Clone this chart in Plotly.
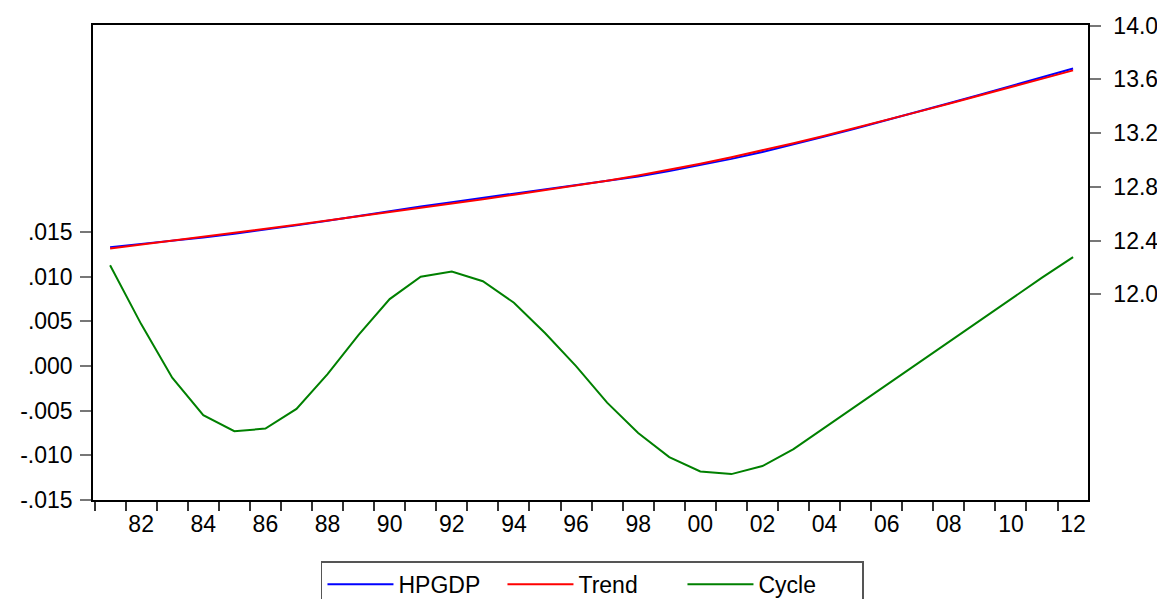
import plotly.graph_objects as go

years = list(range(1981, 2013))

hpgdp = [12.351, 12.374, 12.397, 12.423, 12.451, 12.481, 12.513, 12.548,
         12.584, 12.619, 12.653, 12.686, 12.718, 12.748, 12.779, 12.810,
         12.842, 12.877, 12.917, 12.960, 13.008, 13.060, 13.116, 13.174,
         13.235, 13.296, 13.358, 13.422, 13.486, 13.551, 13.614, 13.681]

trend = [12.340, 12.369, 12.398, 12.428, 12.458, 12.488, 12.518, 12.549,
         12.580, 12.611, 12.643, 12.675, 12.708, 12.741, 12.775, 12.810,
         12.846, 12.885, 12.927, 12.972, 13.020, 13.071, 13.125, 13.181,
         13.239, 13.298, 13.358, 13.419, 13.481, 13.543, 13.605, 13.667]

cycle = [0.0113, 0.0047, -0.0013, -0.0055, -0.0073, -0.0070, -0.0048, -0.0009,
         0.0035, 0.0075, 0.0100, 0.0106, 0.0095, 0.0071, 0.0037, 0.0000,
         -0.0041, -0.0075, -0.0102, -0.0118, -0.0121, -0.0112, -0.0093, -0.0069,
         -0.0045, -0.0021, 0.0003, 0.0027, 0.0051, 0.0075, 0.0099, 0.0122]

x_tick_years = list(range(1982, 2013, 2))
x_tick_text = [f"{y % 100:02d}" for y in x_tick_years]

left_tick_vals = [-0.015, -0.010, -0.005, 0.0, 0.005, 0.010, 0.015]
left_tick_text = ["-.015", "-.010", "-.005", ".000", ".005", ".010", ".015"]

right_tick_vals = [12.0, 12.4, 12.8, 13.2, 13.6, 14.0]
right_tick_text = ["12.0", "12.4", "12.8", "13.2", "13.6", "14.0"]

FONT = "Liberation Sans, Arial, sans-serif"

fig = go.Figure()
fig.add_trace(go.Scatter(x=years, y=hpgdp, name="HPGDP", mode="lines",
                         line=dict(color="#0000FF", width=2), yaxis="y2"))
fig.add_trace(go.Scatter(x=years, y=trend, name="Trend", mode="lines",
                         line=dict(color="#FF0000", width=2), yaxis="y2"))
fig.add_trace(go.Scatter(x=years, y=cycle, name="Cycle", mode="lines",
                         line=dict(color="#008000", width=2), yaxis="y"))

fig.update_layout(
    width=1157, height=591,
    margin=dict(l=85, r=77, t=17, b=99, autoexpand=False),
    paper_bgcolor="white", plot_bgcolor="white",
    font=dict(family=FONT, size=21, color="black"),
    showlegend=True,
    legend=dict(orientation="h", xref="container", yref="container",
                x=0.2705, xanchor="left", y=0.064, yanchor="top",
                bordercolor="#555555", borderwidth=1.5, bgcolor="white",
                font=dict(family=FONT, size=23, color="black"),
                itemwidth=66, traceorder="normal", entrywidth=99),
    xaxis=dict(range=[1980.45, 2012.48], tickmode="array", tickvals=x_tick_years,
               ticktext=x_tick_text, ticks="", showgrid=False, zeroline=False,
               showline=True, linecolor="black", linewidth=1.5, mirror=True,
               tickfont=dict(family=FONT, size=23), ticklabelstandoff=3,
               minor=dict(tickmode="linear", tick0=1980.5, dtick=1, ticks="outside",
                          ticklen=9, tickcolor="#333333", tickwidth=1.5, showgrid=False)),
    yaxis=dict(range=[-0.015, 0.0382], tickmode="array", tickvals=left_tick_vals,
               ticktext=left_tick_text, ticks="outside", ticklen=11, tickwidth=1.5,
               tickcolor="#777777", showgrid=False, zeroline=False,
               showline=True, linecolor="black", linewidth=1.5,
               tickfont=dict(family=FONT, size=23), ticklabelstandoff=3),
    yaxis2=dict(range=[10.468, 14.005], overlaying="y", side="right",
                tickmode="array", tickvals=right_tick_vals, ticktext=right_tick_text,
                ticks="outside", ticklen=11, tickwidth=1.5, tickcolor="#777777",
                showgrid=False, zeroline=False, showline=True, linecolor="black",
                linewidth=1.5, tickfont=dict(family=FONT, size=23),
                ticklabelstandoff=8),
)

fig.write_html("out.html")
